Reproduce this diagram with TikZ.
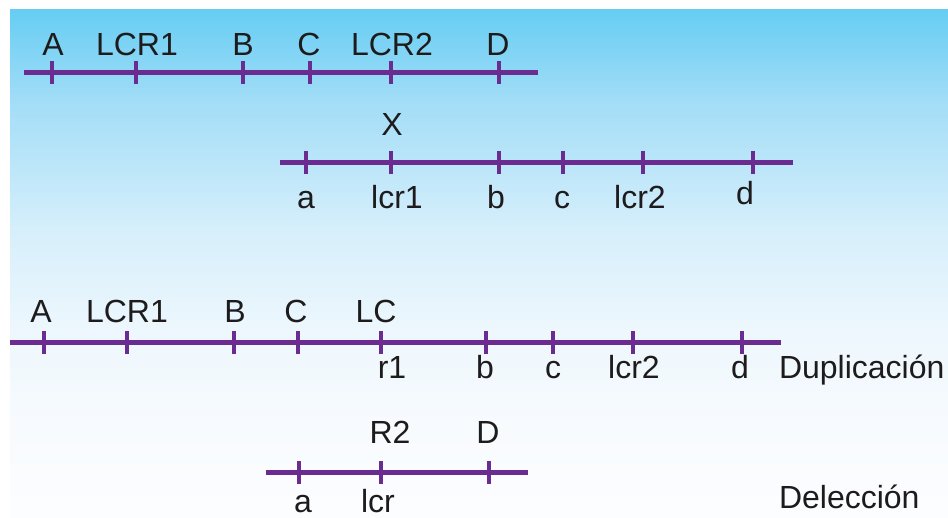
\documentclass[tikz,border=0pt]{standalone}
\usepackage{fontspec}
\setmainfont{Liberation Sans}
\definecolor{chrom}{RGB}{106,44,145}
\definecolor{txt}{RGB}{30,27,28}
\definecolor{bgA}{RGB}{102,205,243}
\definecolor{bgB}{RGB}{162,221,247}
\definecolor{bgC}{RGB}{214,239,251}
\definecolor{bgD}{RGB}{237,247,253}
\definecolor{bgE}{RGB}{248,251,254}
\definecolor{bgF}{RGB}{252,253,255}
\begin{document}
\begin{tikzpicture}[x=1pt,y=-1pt,
  chromline/.style={line width=5pt,draw=chrom},
  tickmark/.style={fill=chrom,draw=none,minimum width=4pt,minimum height=23pt,inner sep=0pt,outer sep=0pt},
  lab/.style={anchor=base,inner sep=0pt,outer sep=0pt,text=txt,font=\fontsize{32}{32}\selectfont},
  side/.style={lab,anchor=base west}]
\useasboundingbox (0,0) rectangle (948,518);
% background
\fill[white] (0,0) rectangle (948,518);
\shade[top color=bgA,bottom color=bgB] (10,10) rectangle (948,100.5);
\shade[top color=bgB,bottom color=bgC] (10,100) rectangle (948,230.5);
\shade[top color=bgC,bottom color=bgD] (10,230) rectangle (948,330.5);
\shade[top color=bgD,bottom color=bgE] (10,330) rectangle (948,430.5);
\shade[top color=bgE,bottom color=bgF] (10,430) rectangle (948,518);

% Row 1
\coordinate (l1s) at (24,72.5);
\coordinate (l1e) at (538,72.5);
\draw[chromline] (l1s) -- (l1e);
\foreach \n/\x in {A/52,LCRa/136,B/243,C/310,LCRb/391,D/499}
  \node[tickmark] (t1\n) at (\x,72.5) {};
\node[lab] (L1A) at (53,56) {A};
\node[lab] (L1LCRa) at (137,56) {LCR1};
\node[lab] (L1B) at (243,56) {B};
\node[lab] (L1C) at (309,56) {C};
\node[lab] (L1LCRb) at (392,56) {LCR2};
\node[lab] (L1D) at (498,56) {D};

% Row 2
\coordinate (l2s) at (280,162.5);
\coordinate (l2e) at (793,162.5);
\draw[chromline] (l2s) -- (l2e);
\foreach \n/\x in {a/306,lcra/391,b/499,c/563,lcrb/643,d/753}
  \node[tickmark] (t2\n) at (\x,162.5) {};
\node[lab] (L2X) at (392,136) {X};
\node[lab] (L2a) at (306,209) {a};
\node[lab] (L2lcra) at (397,209) {lcr1};
\node[lab] (L2b) at (496,209) {b};
\node[lab] (L2c) at (562,209) {c};
\node[lab] (L2lcrb) at (640,209) {lcr2};
\node[lab] (L2d) at (745,205) {d};

% Row 3
\coordinate (l3s) at (10,342.5);
\coordinate (l3e) at (781,342.5);
\draw[chromline] (l3s) -- (l3e);
\foreach \n/\x in {A/44,LCRa/127,B/234,C/298,LC/381,b/486,c/553,lcrb/633,d/742}
  \node[tickmark] (t3\n) at (\x,342.5) {};
\node[lab] (L3A) at (41,323) {A};
\node[lab] (L3LCRa) at (127,323) {LCR1};
\node[lab] (L3B) at (235,323) {B};
\node[lab] (L3C) at (296,323) {C};
\node[lab] (L3LC) at (376,323) {LC};
\node[lab] (L3r) at (392,379) {r1};
\node[lab] (L3b) at (485,379) {b};
\node[lab] (L3c) at (553,379) {c};
\node[lab] (L3lcrb) at (634,379) {lcr2};
\node[lab] (L3d) at (740,379) {d};
\node[side] (dup) at (779,379) {Duplicación};

% Row 4
\coordinate (l4s) at (266,472.5);
\coordinate (l4e) at (528,472.5);
\draw[chromline] (l4s) -- (l4e);
\foreach \n/\x in {a/299,lcr/381,D/489}
  \node[tickmark] (t4\n) at (\x,472.5) {};
\node[lab] (L4R) at (390,443) {R2};
\node[lab] (L4D) at (488,443) {D};
\node[lab] (L4a) at (303,512) {a};
\node[lab] (L4lcr) at (378,512) {lcr};
\node[side] (del) at (779,508) {Delección};
\end{tikzpicture}
\end{document}
